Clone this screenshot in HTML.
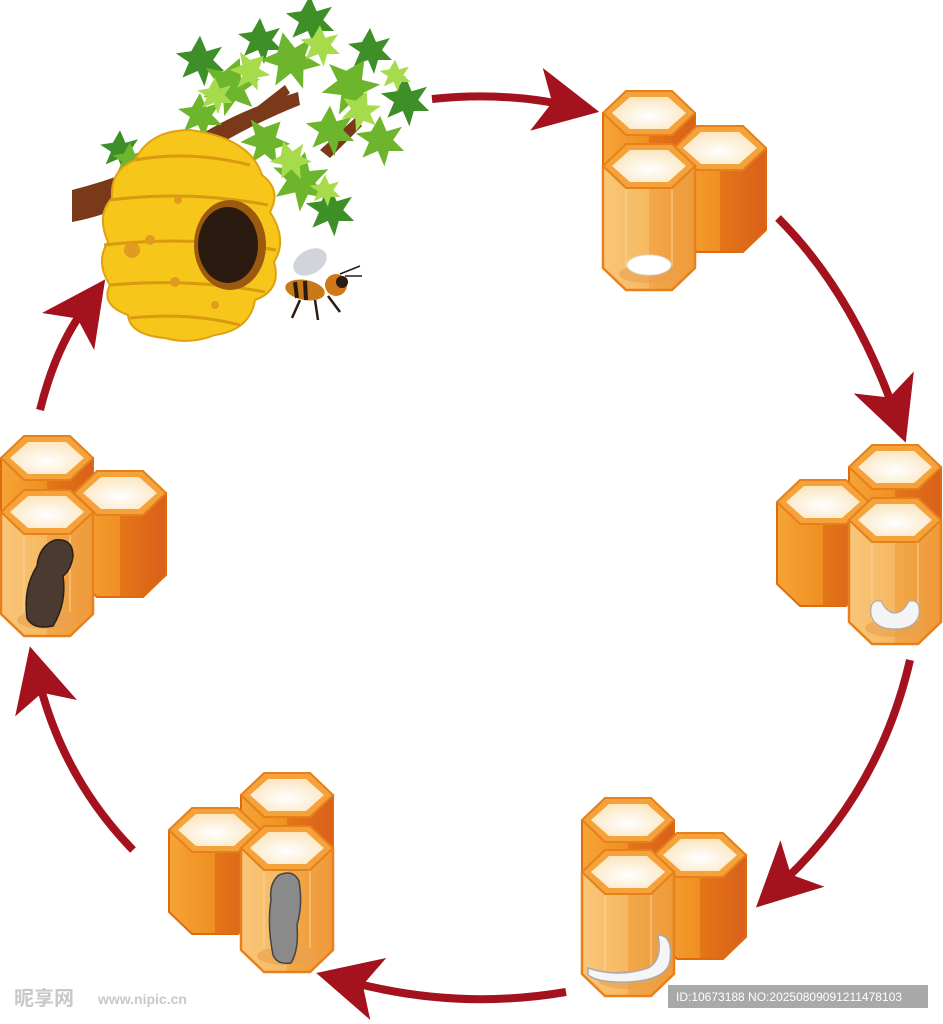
<!DOCTYPE html>
<html><head><meta charset="utf-8"><style>
html,body{margin:0;padding:0;background:#fff;}
svg{display:block;}
</style></head><body>
<svg width="943" height="1024" viewBox="0 0 943 1024" xmlns="http://www.w3.org/2000/svg">
<defs>
  <linearGradient id="body" x1="0" x2="1" y1="0" y2="0">
    <stop offset="0" stop-color="#f6a436"/><stop offset="0.5" stop-color="#ef8f22"/><stop offset="0.5" stop-color="#e47618"/><stop offset="1" stop-color="#d9601a"/>
  </linearGradient>
  <linearGradient id="front" x1="0" x2="1" y1="0" y2="0">
    <stop offset="0" stop-color="#f8c77a"/><stop offset="0.5" stop-color="#f6b860"/><stop offset="0.5" stop-color="#f2a84a"/><stop offset="1" stop-color="#ee9a3a"/>
  </linearGradient>
  <radialGradient id="cap" cx="0.5" cy="0.6" r="0.6">
    <stop offset="0" stop-color="#ffffff"/><stop offset="1" stop-color="#fbe6c0"/>
  </radialGradient>
  <g id="prism">
    <path d="M-46,0 L-46,82 L-23,104 L23,104 L46,82 L46,0 Z" fill="url(#body)" stroke="#e06a12" stroke-width="2"/>
    <polygon points="-46,0 -23,-22 23,-22 46,0 23,22 -23,22" fill="#f5a23a" stroke="#e5801a" stroke-width="2"/>
    <polygon points="-37,0 -19,-16 19,-16 37,0 19,16 -19,16" fill="url(#cap)"/>
  </g>
  <g id="fprism">
    <path d="M-46,0 L-46,102 L-23,124 L23,124 L46,102 L46,0 Z" fill="url(#front)" stroke="#e9801c" stroke-width="2.5"/>
    <path d="M-23,22 L-23,100 M23,22 L23,100" stroke="#f9d49a" stroke-width="1.5" opacity="0.7"/>
    <ellipse cx="0" cy="108" rx="30" ry="9" fill="#eaa050" opacity="0.6"/>
    <polygon points="-46,0 -23,-22 23,-22 46,0 23,22 -23,22" fill="#f5a23a" stroke="#e5801a" stroke-width="2"/>
    <polygon points="-37,0 -19,-16 19,-16 37,0 19,16 -19,16" fill="url(#cap)"/>
  </g>
  <g id="leaf">
    <path d="M0,-22 L6,-8 L20,-12 L12,0 L22,10 L8,10 L4,24 L-2,10 L-16,16 L-10,2 L-22,-6 L-8,-8 Z"/>
  </g>
  <marker id="ah" markerWidth="8" markerHeight="8" refX="3" refY="4" orient="auto" markerUnits="strokeWidth">
    <path d="M0,0 L8,4 L0,8 L2,4 Z" fill="#a3121d"/>
  </marker>
</defs>

<!-- arrows -->
<g fill="none" stroke="#a3121d" stroke-width="8" stroke-linecap="butt" marker-end="url(#ah)">
  <path d="M432,99 Q500,92 560,104"/>
  <path d="M778,218 Q850,290 892,405"/>
  <path d="M910,660 Q880,790 785,880"/>
  <path d="M566,992 Q460,1010 355,983"/>
  <path d="M133,850 Q65,780 40,685"/>
  <path d="M40,410 Q55,350 82,312"/>
</g>

<!-- C1 -->
<g transform="translate(649,113)">
  <use href="#prism"/>
  <use href="#prism" x="71" y="35"/>
  <use href="#fprism" y="53"/>
  <ellipse cx="0" cy="152" rx="22" ry="10" fill="#fff" stroke="#ddd"/>
</g>
<!-- C2 -->
<g transform="translate(895,467)">
  <use href="#prism"/>
  <use href="#prism" x="-72" y="35"/>
  <use href="#fprism" y="53"/>
  <path d="M-24,148 Q-26,132 -14,134 Q-8,146 0,146 Q8,146 14,134 Q26,132 24,148 Q20,162 0,162 Q-20,162 -24,148 Z" fill="#f4f4f4" stroke="#aaa" stroke-width="1.2"/>
</g>
<!-- C3 -->
<g transform="translate(628,820)">
  <use href="#prism"/>
  <use href="#prism" x="72" y="35"/>
  <use href="#fprism" y="52"/>
  <path d="M-40,148 Q-10,158 20,148 Q35,140 30,115 Q45,115 42,140 Q40,160 0,162 Q-30,163 -40,155 Z" fill="#f5f5f5" stroke="#aaa" stroke-width="1.5"/>
</g>
<!-- C4 -->
<g transform="translate(287,795)">
  <use href="#prism"/>
  <use href="#prism" x="-72" y="35"/>
  <use href="#fprism" y="53"/>
  <path d="M-8,80 Q6,74 12,86 Q16,110 10,130 Q12,155 4,168 Q-10,170 -14,160 Q-20,130 -16,105 Q-18,88 -8,80 Z" fill="#8a8a8a" stroke="#444" stroke-width="1.5"/>
</g>
<!-- C5 -->
<g transform="translate(47,458)">
  <use href="#prism"/>
  <use href="#prism" x="73" y="35"/>
  <use href="#fprism" y="54"/>
  <path d="M8,82 Q26,80 26,98 Q24,112 16,118 Q20,145 6,168 Q-14,172 -20,160 Q-24,130 -10,108 Q-8,88 8,82 Z" fill="#4a3a30" stroke="#2a1e18" stroke-width="1.5"/>
</g>

<!-- tree -->
<g>
  <path d="M72,190 L72,222 Q140,210 210,150 Q250,125 300,105 L298,92 Q240,110 200,135 Q150,170 72,190 Z" fill="#7a3a1a"/>
  <path d="M320,150 L355,118 L362,126 L330,158 Z" fill="#7a3a1a"/>
  <path d="M240,120 L285,85 L290,93 L248,128 Z" fill="#7a3a1a"/>
  <g fill="#3f8f28">
    <use href="#leaf" transform="translate(200,60) scale(1.1)"/>
    <use href="#leaf" transform="translate(310,20) scale(1.1)"/>
    <use href="#leaf" transform="translate(405,100) scale(1.1)"/>
    <use href="#leaf" transform="translate(330,210) scale(1.1)"/>
    <use href="#leaf" transform="translate(260,40) scale(1.0)"/>
    <use href="#leaf" transform="translate(370,50) scale(1.0)"/>
    <use href="#leaf" transform="translate(120,150) scale(0.9)"/>
  </g>
  <g fill="#6db52c">
    <use href="#leaf" transform="translate(230,85) scale(1.3) rotate(20)"/>
    <use href="#leaf" transform="translate(290,60) scale(1.3) rotate(-15)"/>
    <use href="#leaf" transform="translate(350,85) scale(1.3) rotate(30)"/>
    <use href="#leaf" transform="translate(380,140) scale(1.1)"/>
    <use href="#leaf" transform="translate(300,180) scale(1.3) rotate(10)"/>
    <use href="#leaf" transform="translate(265,140) scale(1.1) rotate(40)"/>
    <use href="#leaf" transform="translate(200,115) scale(1.0)"/>
    <use href="#leaf" transform="translate(330,130) scale(1.1)"/>
    <use href="#leaf" transform="translate(130,160) scale(0.8)"/>
  </g>
  <g fill="#a6dc4c">
    <use href="#leaf" transform="translate(250,70) scale(0.9) rotate(45)"/>
    <use href="#leaf" transform="translate(320,45) scale(0.9)"/>
    <use href="#leaf" transform="translate(360,110) scale(0.9) rotate(20)"/>
    <use href="#leaf" transform="translate(290,160) scale(0.9) rotate(-20)"/>
    <use href="#leaf" transform="translate(215,95) scale(0.8)"/>
    <use href="#leaf" transform="translate(395,75) scale(0.7)"/>
    <use href="#leaf" transform="translate(325,190) scale(0.7)"/>
  </g>
</g>
<!-- hive -->
<g>
  <path d="M190,130 Q250,138 262,175 Q282,190 270,212 Q288,240 274,262 Q282,290 255,300 Q250,330 215,335 Q190,345 165,338 Q130,335 128,315 Q100,305 110,285 Q95,262 108,242 Q96,215 112,198 Q110,170 135,160 Q150,130 190,130 Z" fill="#f6c71a" stroke="#e0a010" stroke-width="2"/>
  <g fill="none" stroke="#d99a10" stroke-width="3">
    <path d="M135,160 Q190,150 250,165"/><path d="M110,200 Q190,190 268,205"/>
    <path d="M104,245 Q190,235 276,250"/><path d="M110,285 Q190,278 265,292"/>
    <path d="M130,318 Q190,312 240,325"/>
  </g>
  <ellipse cx="230" cy="245" rx="36" ry="45" fill="#9c5a10"/>
  <ellipse cx="228" cy="245" rx="30" ry="38" fill="#2a1a10"/>
  <g fill="#e39a20"><circle cx="132" cy="250" r="8"/><circle cx="150" cy="240" r="5"/><circle cx="178" cy="200" r="4"/><circle cx="175" cy="282" r="5"/><circle cx="215" cy="305" r="4"/></g>
</g>
<!-- bee -->
<g>
  <ellipse cx="310" cy="262" rx="18" ry="12" fill="#c9ccd4" opacity="0.85" transform="rotate(-30 310 262)"/>
  <ellipse cx="305" cy="290" rx="20" ry="10" fill="#c87a18" transform="rotate(10 305 290)"/>
  <path d="M295,282 L297,298 M305,281 L306,300" stroke="#2a1a10" stroke-width="4"/>
  <circle cx="336" cy="285" r="11" fill="#d07818"/>
  <circle cx="342" cy="282" r="6" fill="#2a1a10"/>
  <path d="M300,300 L292,318 M315,300 L318,320 M328,296 L340,312" stroke="#2a1a10" stroke-width="2.5" fill="none"/>
  <path d="M340,274 L360,266 M345,276 L362,276" stroke="#2a1a10" stroke-width="1.5"/>
</g>

<!-- watermarks -->
<text x="14" y="1005" font-family="'Liberation Sans','Noto Sans CJK SC',sans-serif" font-size="20" font-weight="bold" fill="#c8c8c8">昵享网</text>
<text x="98" y="1004" font-family="'Liberation Sans',sans-serif" font-size="14" font-weight="bold" fill="#c8c8c8">www.nipic.cn</text>
<rect x="668" y="985" width="260" height="23" fill="#9a9a9a" opacity="0.85"/>
<text x="676" y="1001" font-family="'Liberation Sans',sans-serif" font-size="12" fill="#fff">ID:10673188 NO:20250809091211478103</text>
</svg>
</body></html>
